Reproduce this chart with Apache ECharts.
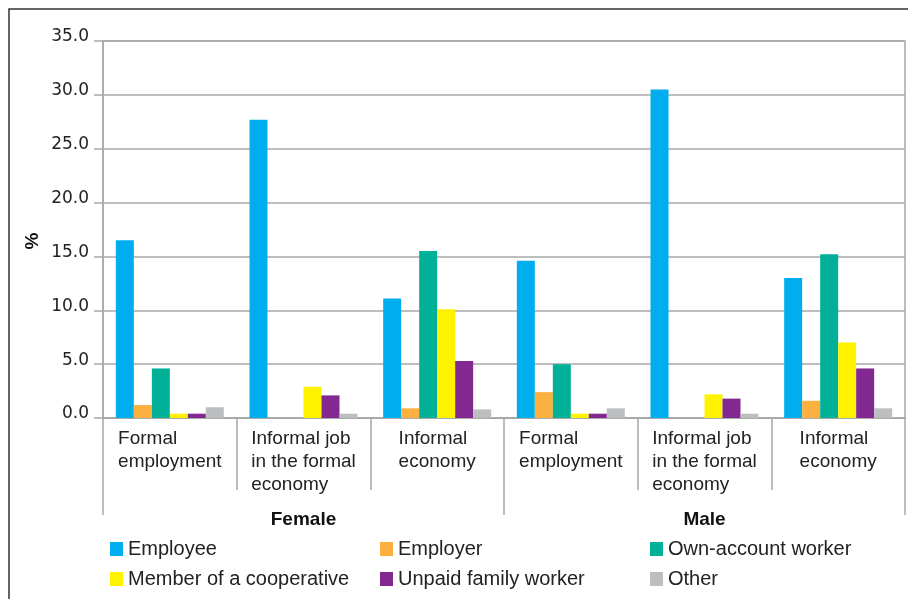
<!DOCTYPE html>
<html>
<head>
<meta charset="utf-8">
<script src="https://cdn.jsdelivr.net/npm/echarts@6/dist/echarts.min.js"></script>
<style>
  html, body { margin: 0; padding: 0; background: #fff; }
  #chart { width: 908px; height: 599px; }
</style>
</head>
<body>
<div id="chart"></div>
<script>
// Employment status by type of job, female and male (%)
const categories = [
  'Formal\nemployment',
  'Informal job\nin the formal\neconomy',
  'Informal\neconomy',
  'Formal\nemployment',
  'Informal job\nin the formal\neconomy',
  'Informal\neconomy'
];
const groups = ['Female', 'Male'];

const employee   = [16.5, 27.7, 11.1, 14.6, 30.5, 13.0];
const employer   = [1.2, 0, 0.9, 2.4, 0, 1.6];
const ownAccount = [4.6, 0, 15.5, 5.0, 0, 15.2];
const member     = [0.4, 2.9, 10.1, 0.4, 2.2, 7.0];
const unpaid     = [0.4, 2.1, 5.3, 0.4, 1.8, 4.6];
const other      = [1.0, 0.4, 0.8, 0.9, 0.4, 0.9];

const yTicks = { min: 0, max: 35, interval: 5 };

const seriesDefs = [
  { name: 'Employee', data: employee, color: '#00AEEF' },
  { name: 'Employer', data: employer, color: '#FBB040' },
  { name: 'Own-account worker', data: ownAccount, color: '#00B097' },
  { name: 'Member of a cooperative', data: member, color: '#FFF200' },
  { name: 'Unpaid family worker', data: unpaid, color: '#812990' },
  { name: 'Other', data: other, color: '#BCBEC0' }
];

const gridGrey = '#a8a8a8';
const textDark = '#222';
const sans = '"Liberation Sans", Arial, sans-serif';

const chart = echarts.init(document.getElementById('chart'), null, { renderer: 'canvas' });

const legendText = { fontFamily: sans, fontSize: 20, color: textDark, lineHeight: 20 };
const legendBase = {
  orient: 'vertical',
  top: 539,
  padding: 0,
  itemWidth: 13,
  itemHeight: 14,
  itemGap: 10,
  icon: 'rect',
  textStyle: legendText,
  selectedMode: false
};

const option = {
  animation: false,
  backgroundColor: '#fff',
  grid: {
    left: 103, right: 3, top: 41, bottom: 181,
    show: true, borderColor: gridGrey, borderWidth: 1.5, backgroundColor: 'transparent'
  },
  legend: [
    Object.assign({ left: 110, data: ['Employee', 'Member of a cooperative'] }, legendBase),
    Object.assign({ left: 380, data: ['Employer', 'Unpaid family worker'] }, legendBase),
    Object.assign({ left: 650, data: ['Own-account worker', 'Other'] }, legendBase)
  ],
  xAxis: [
    {
      type: 'category',
      data: categories,
      position: 'bottom',
      axisLine: { show: true, lineStyle: { color: gridGrey, width: 1.5 } },
      axisTick: { show: true, length: 72, interval: 0, lineStyle: { color: gridGrey, width: 1.5 } },
      axisLabel: {
        interval: 0,
        margin: 9,
        align: 'center',
        verticalAlign: 'top',
        color: textDark,
        fontFamily: sans,
        fontSize: 19,
        lineHeight: 23,
        formatter: function (v) {
          return v.split('\n').map(function (s) { return '{l|' + s + '}'; }).join('\n');
        },
        rich: {
          l: { align: 'left', fontFamily: sans, fontSize: 19, lineHeight: 23, color: textDark }
        }
      }
    },
    {
      type: 'category',
      data: groups,
      position: 'bottom',
      axisLine: { show: false },
      axisTick: { show: true, length: 97, interval: 0, lineStyle: { color: gridGrey, width: 1.5 } },
      axisLabel: {
        interval: 0,
        margin: 92,
        verticalAlign: 'top',
        color: '#111',
        fontFamily: sans,
        fontSize: 19,
        fontWeight: 'bold',
        lineHeight: 20
      }
    }
  ],
  yAxis: {
    type: 'value',
    min: yTicks.min,
    max: yTicks.max,
    interval: yTicks.interval,
    axisLine: { show: true, lineStyle: { color: gridGrey, width: 1.5 } },
    axisTick: { show: true, length: 9, lineStyle: { color: gridGrey, width: 1.5 } },
    splitLine: { show: true, lineStyle: { color: gridGrey, width: 1.5 } },
    axisLabel: {
      margin: 14,
      color: textDark,
      fontFamily: '"DejaVu Sans", sans-serif',
      fontSize: 17,
      verticalAlign: 'bottom',
      lineHeight: 8,
      formatter: function (v) { return v.toFixed(1); }
    }
  },
  series: seriesDefs.map(function (s) {
    return {
      name: s.name,
      type: 'bar',
      xAxisIndex: 0,
      data: s.data,
      barWidth: 18,
      barGap: '0%',
      itemStyle: { color: s.color },
      emphasis: { disabled: true }
    };
  }),
  graphic: [
    {
      type: 'polyline',
      shape: { points: [[9, 599], [9, 9], [908, 9]] },
      style: { stroke: '#333', lineWidth: 1.5, fill: null },
      silent: true
    },
    {
      type: 'text',
      x: 33,
      y: 241,
      rotation: Math.PI / 2,
      style: {
        text: '%',
        fontFamily: sans,
        fontSize: 19,
        fontWeight: 'bold',
        fill: '#111',
        align: 'center',
        verticalAlign: 'middle'
      },
      silent: true
    }
  ]
};

chart.setOption(option);
</script>
</body>
</html>
